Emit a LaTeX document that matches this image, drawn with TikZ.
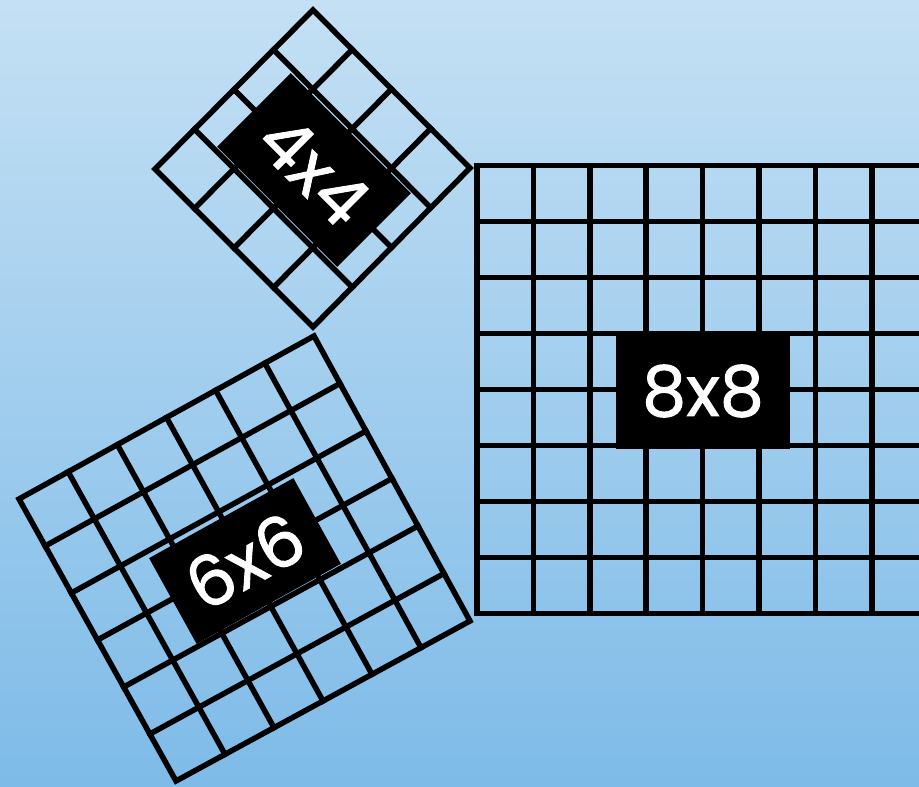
\documentclass[tikz,border=0pt]{standalone}
\usepackage{fontspec}
\newfontfamily\lblfont[FakeBold=1.3]{Poppins}
\usetikzlibrary{calc}
\definecolor{bgtop}{RGB}{196,224,244}
\definecolor{bgbot}{RGB}{126,187,232}
\tikzset{
  gridline/.style={line width=5.5pt, draw=black, line join=miter, line cap=rect},
  lbl/.style={fill=black, text=white, inner sep=0pt, font=\lblfont\fontsize{70}{70}\selectfont}
}
\begin{document}
\begin{tikzpicture}[x=1pt,y=-1pt]
\path[use as bounding box] (0,0) rectangle (919,787);
\fill[top color=bgtop, bottom color=bgbot] (0,0) rectangle (919,787);

% 4x4 grid
\coordinate (aL) at (155,169);
\coordinate (aT) at (313,10);
\coordinate (aR) at (470,168);
\coordinate (aB) at (313,327);
\foreach \i in {1,2,3} {
  \draw[gridline] ($(aL)!\i/4!(aT)$) -- ($(aB)!\i/4!(aR)$);
  \draw[gridline] ($(aL)!\i/4!(aB)$) -- ($(aT)!\i/4!(aR)$);
}
\draw[gridline] (aL) -- (aT) -- (aR) -- (aB) -- cycle;

% 6x6 grid
\coordinate (bL) at (19,499);
\coordinate (bT) at (314,336);
\coordinate (bR) at (470,621);
\coordinate (bB) at (176,781);
\foreach \i in {1,...,5} {
  \draw[gridline] ($(bL)!\i/6!(bT)$) -- ($(bB)!\i/6!(bR)$);
  \draw[gridline] ($(bL)!\i/6!(bB)$) -- ($(bT)!\i/6!(bR)$);
}
\draw[gridline] (bL) -- (bT) -- (bR) -- (bB) -- cycle;

% 8x8 grid
\foreach \i in {0,...,8} {
  \draw[gridline] (477+\i*56.4,165.5) -- (477+\i*56.4,613.5);
  \draw[gridline] (477,165.5+\i*56) -- (928,165.5+\i*56);
}
\draw[gridline] (928,165.5) -- (477,165.5) -- (477,613.5) -- (928,613.5);

% labels
\node[lbl, minimum width=174pt, minimum height=116pt] (l8) at (703,391) {8x8};
\node[lbl, rotate=-45, minimum width=170pt, minimum height=104pt] (l4) at (314,170) {4x4};
\node[lbl, rotate=29, minimum width=165pt, minimum height=98pt] (l6) at (245,561) {6x6};
\end{tikzpicture}
\end{document}
